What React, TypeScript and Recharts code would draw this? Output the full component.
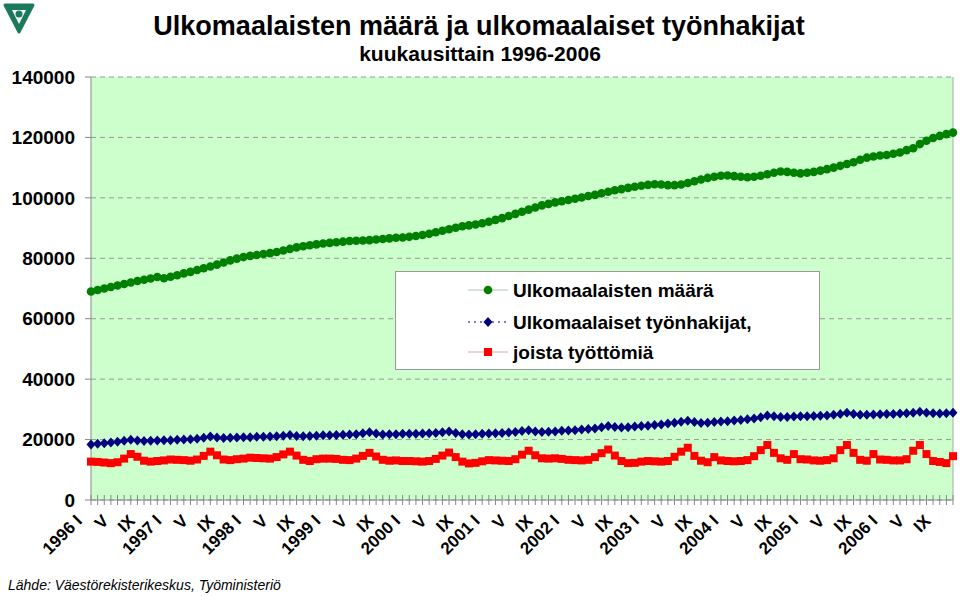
import React from "react";
import {
  LineChart,
  Line,
  XAxis,
  YAxis,
  CartesianGrid,
  Legend,
  ReferenceLine,
} from "recharts";

const FONT = "'Liberation Sans', Arial, sans-serif";

const years = [1996, 1997, 1998, 1999, 2000, 2001, 2002, 2003, 2004, 2005, 2006];
const months = ["I", "II", "III", "IV", "V", "VI", "VII", "VIII", "IX", "X", "XI", "XII"];
const yTicks = [0, 20000, 40000, 60000, 80000, 100000, 120000, 140000];

// Ulkomaalaisten määrä, 1996 I - 2006 XI
const foreigners = [
  69000, 69500, 70000, 70500, 71000, 71500, 72000, 72500, 72900, 73300, 73800, 73400,
  73900, 74400, 75000, 75500, 76100, 76700, 77300, 77900, 78600, 79300, 79900, 80400,
  80800, 81100, 81400, 81700, 82100, 82600, 83100, 83600, 84000, 84300, 84600, 84900,
  85100, 85300, 85500, 85700, 85800, 85900, 86000, 86200, 86400, 86600, 86800, 86900,
  87100, 87400, 87700, 88100, 88600, 89100, 89600, 90100, 90600, 90900, 91200, 91600,
  92100, 92700, 93300, 94000, 94700, 95400, 96100, 96800, 97500, 98000, 98500, 98900,
  99300, 99700, 100100, 100600, 101000, 101500, 102000, 102500, 102900, 103300, 103700, 104000,
  104300, 104500, 104400, 104200, 104200, 104400, 104900, 105500, 106100, 106600, 107000, 107300,
  107400, 107200, 107000, 106800, 107000, 107300, 107800, 108300, 108700, 108600, 108300, 108100,
  108300, 108600, 109000, 109500, 110000, 110600, 111200, 111800, 112600, 113300, 113700, 114000,
  114200, 114600, 115000, 115800, 116400, 117800, 118900, 119800, 120500, 121100, 121600,
];

// Ulkomaalaiset työnhakijat
const jobSeekers = [
  18400, 18600, 18800, 19000, 19300, 19600, 19900, 19700, 19500, 19600, 19700, 19800,
  19800, 19900, 20000, 20100, 20300, 20600, 21000, 20700, 20500, 20600, 20700, 20800,
  20800, 20900, 20900, 21000, 21100, 21300, 21500, 21200, 21100, 21200, 21300, 21400,
  21400, 21500, 21600, 21700, 21800, 22100, 22400, 22000, 21700, 21800, 21800, 21900,
  21900, 21900, 22000, 22100, 22200, 22400, 22700, 22200, 21800, 21700, 21800, 21900,
  22000, 22100, 22200, 22300, 22500, 22800, 23100, 22700, 22500, 22600, 22700, 22900,
  23000, 23100, 23300, 23500, 23700, 24100, 24500, 24200, 24000, 24100, 24300, 24500,
  24600, 24800, 25000, 25300, 25600, 25900, 26200, 25800, 25500, 25600, 25800, 26000,
  26100, 26300, 26500, 26700, 27000, 27400, 28000, 27700, 27500, 27500, 27600, 27700,
  27700, 27800, 27900, 28000, 28200, 28500, 28900, 28500, 28200, 28200, 28300, 28400,
  28500, 28500, 28600, 28700, 28900, 29200, 28900, 28700, 28600, 28700, 28900,
];

// joista työttömiä
const unemployed = [
  12700, 12600, 12400, 12200, 12500, 13700, 15200, 14300, 13000, 12700, 12900, 13100,
  13400, 13300, 13200, 13000, 13400, 14600, 16000, 14800, 13400, 13200, 13500, 13700,
  14000, 13900, 13800, 13700, 14200, 15100, 16000, 14700, 13300, 12900, 13500, 13700,
  13700, 13600, 13300, 13200, 13700, 14600, 15600, 14400, 13300, 13000, 13100, 12900,
  12900, 12800, 12700, 12900, 13600, 14700, 15700, 14200, 12700, 12100, 12300, 12800,
  13200, 13100, 13000, 12900, 13500, 15000, 16300, 14800, 13800, 13700, 13800, 13600,
  13300, 13200, 13100, 13300, 14200, 15500, 16700, 14700, 12900, 12200, 12300, 12700,
  12900, 12800, 12700, 12900, 14300, 16000, 17300, 14600, 13000, 12500, 14200, 13100,
  12900, 12800, 12900, 13200, 14500, 16500, 18200, 15600, 13800, 13300, 15200, 13500,
  13400, 13100, 13000, 13200, 13800, 16500, 18200, 15600, 13300, 13000, 15200, 13400,
  13300, 13100, 13100, 13500, 16300, 18200, 15200, 12900, 12600, 12200, 14500,
];

const data = foreigners.map((v, i) => ({
  key: `${years[Math.floor(i / 12)]}-${i % 12}`,
  year: years[Math.floor(i / 12)],
  month: months[i % 12],
  foreigners: v,
  jobSeekers: jobSeekers[i],
  unemployed: unemployed[i],
}));

function MonthTick(props: any) {
  const { x, y, index } = props;
  const d = data[index];
  let label = "";
  if (index % 12 === 0) label = `${d.year} I`;
  else if (index % 4 === 0) label = d.month;
  const ax = x - 8;
  const ay = y + 22;
  return (
    <g>
      <line x1={x} x2={x} y1={y - 5} y2={y + 5} stroke="#888" />
      {label && (
        <text
          x={ax}
          y={ay}
          transform={`rotate(-45 ${ax} ${ay})`}
          textAnchor="end"
          fontFamily={FONT}
          fontWeight="bold"
          fontSize={17}
          fill="#000"
        >
          {label}
        </text>
      )}
    </g>
  );
}

const circleDot = (p: any) => (
  <circle key={`c${p.index}`} cx={p.cx} cy={p.cy} r={4.3} fill="#008000" />
);
const diamondDot = (p: any) => (
  <polygon
    key={`d${p.index}`}
    points={`${p.cx},${p.cy - 5} ${p.cx + 4.5},${p.cy} ${p.cx},${p.cy + 5} ${p.cx - 4.5},${p.cy}`}
    fill="#000080"
  />
);
const squareDot = (p: any) => (
  <rect key={`s${p.index}`} x={p.cx - 4} y={p.cy - 4} width={8} height={8} fill="#ff0000" />
);

function LegendBox() {
  const row = (y: number, marker: React.ReactNode, line: React.ReactNode, text: string) => (
    <g>
      {line}
      {marker}
      <text x={118} y={y + 7} fontFamily={FONT} fontWeight="bold" fontSize={19} fill="#000">
        {text}
      </text>
    </g>
  );
  return (
    <svg width={425} height={99} style={{ display: "block" }}>
      <rect x={0.5} y={0.5} width={424} height={98} fill="#fff" stroke="#999" />
      {row(
        19,
        <circle cx={93} cy={19} r={4.3} fill="#008000" />,
        <line x1={73} x2={113} y1={19} y2={19} stroke="#b0c8b0" />,
        "Ulkomaalaisten määrä"
      )}
      {row(
        51,
        <polygon points="93,46 97.5,51 93,56 88.5,51" fill="#000080" />,
        <line x1={73} x2={113} y1={51} y2={51} stroke="#000080" strokeDasharray="2 4" />,
        "Ulkomaalaiset työnhakijat,"
      )}
      {row(
        81,
        <rect x={89} y={77} width={8} height={8} fill="#ff0000" />,
        <line x1={73} x2={113} y1={81} y2={81} stroke="#e8a0a0" />,
        "joista työttömiä"
      )}
    </svg>
  );
}

export default function App() {
  return (
    <div style={{ position: "relative", width: 960, height: 596, background: "#fff" }}>
      <style>{"body{margin:0}"}</style>
      <LineChart
        width={960}
        height={596}
        data={data}
        margin={{ top: 77, right: 7, bottom: 0, left: 0 }}
      >
        <CartesianGrid
          vertical={false}
          stroke="#999"
          strokeDasharray="5 4"
          fill="#ccffcc"
          fillOpacity={1}
        />
        <XAxis
          dataKey="key"
          interval={0}
          height={96}
          tickSize={0}
          tickMargin={0}
          tickLine={false}
          axisLine={{ stroke: "#888" }}
          tick={<MonthTick />}
        />
        <YAxis
          domain={[0, 140000]}
          ticks={yTicks}
          interval={0}
          width={91}
          tickSize={6}
          tickMargin={10}
          axisLine={{ stroke: "#888" }}
          tickLine={{ stroke: "#888" }}
          tick={{ fill: "#000", fontSize: 19, fontWeight: "bold", fontFamily: FONT }}
        />
        <ReferenceLine x={data[data.length - 1].key} stroke="#aaa" />
        <Legend
          layout="vertical"
          align="center"
          verticalAlign="middle"
          content={() => <LegendBox />}
          wrapperStyle={{ position: "absolute", left: 395, top: 271, width: 425, height: 99 }}
        />
        <Line
          dataKey="foreigners"
          stroke="#008000"
          strokeWidth={1}
          dot={circleDot}
          isAnimationActive={false}
        />
        <Line
          dataKey="jobSeekers"
          stroke="#000080"
          strokeWidth={1}
          strokeDasharray="2 3"
          dot={diamondDot}
          isAnimationActive={false}
        />
        <Line
          dataKey="unemployed"
          stroke="#ff0000"
          strokeWidth={1}
          dot={squareDot}
          isAnimationActive={false}
        />
      </LineChart>
      <svg
        width={960}
        height={596}
        style={{ position: "absolute", left: 0, top: 0, pointerEvents: "none" }}
      >
        <g>
          <path d="M5,5 L33,5 L19,32 Z" fill="#1b7a5c" stroke="#1b7a5c" strokeWidth={3} strokeLinejoin="round" />
          <path d="M12,10 L26,10 L19,24 Z" fill="#fff" />
          <circle cx={19} cy={14} r={3.5} fill="#1b7a5c" />
        </g>
        <text x={479} y={35} textAnchor="middle" fontFamily={FONT} fontWeight="bold" fontSize={27} fill="#000">
          Ulkomaalaisten määrä ja ulkomaalaiset työnhakijat
        </text>
        <text x={480} y={61} textAnchor="middle" fontFamily={FONT} fontWeight="bold" fontSize={21} fill="#000">
          kuukausittain 1996-2006
        </text>
        <text x={8} y={590} fontFamily={FONT} fontStyle="italic" fontSize={14} fill="#000">
          Lähde:  Väestörekisterikeskus, Työministeriö
        </text>
      </svg>
    </div>
  );
}
